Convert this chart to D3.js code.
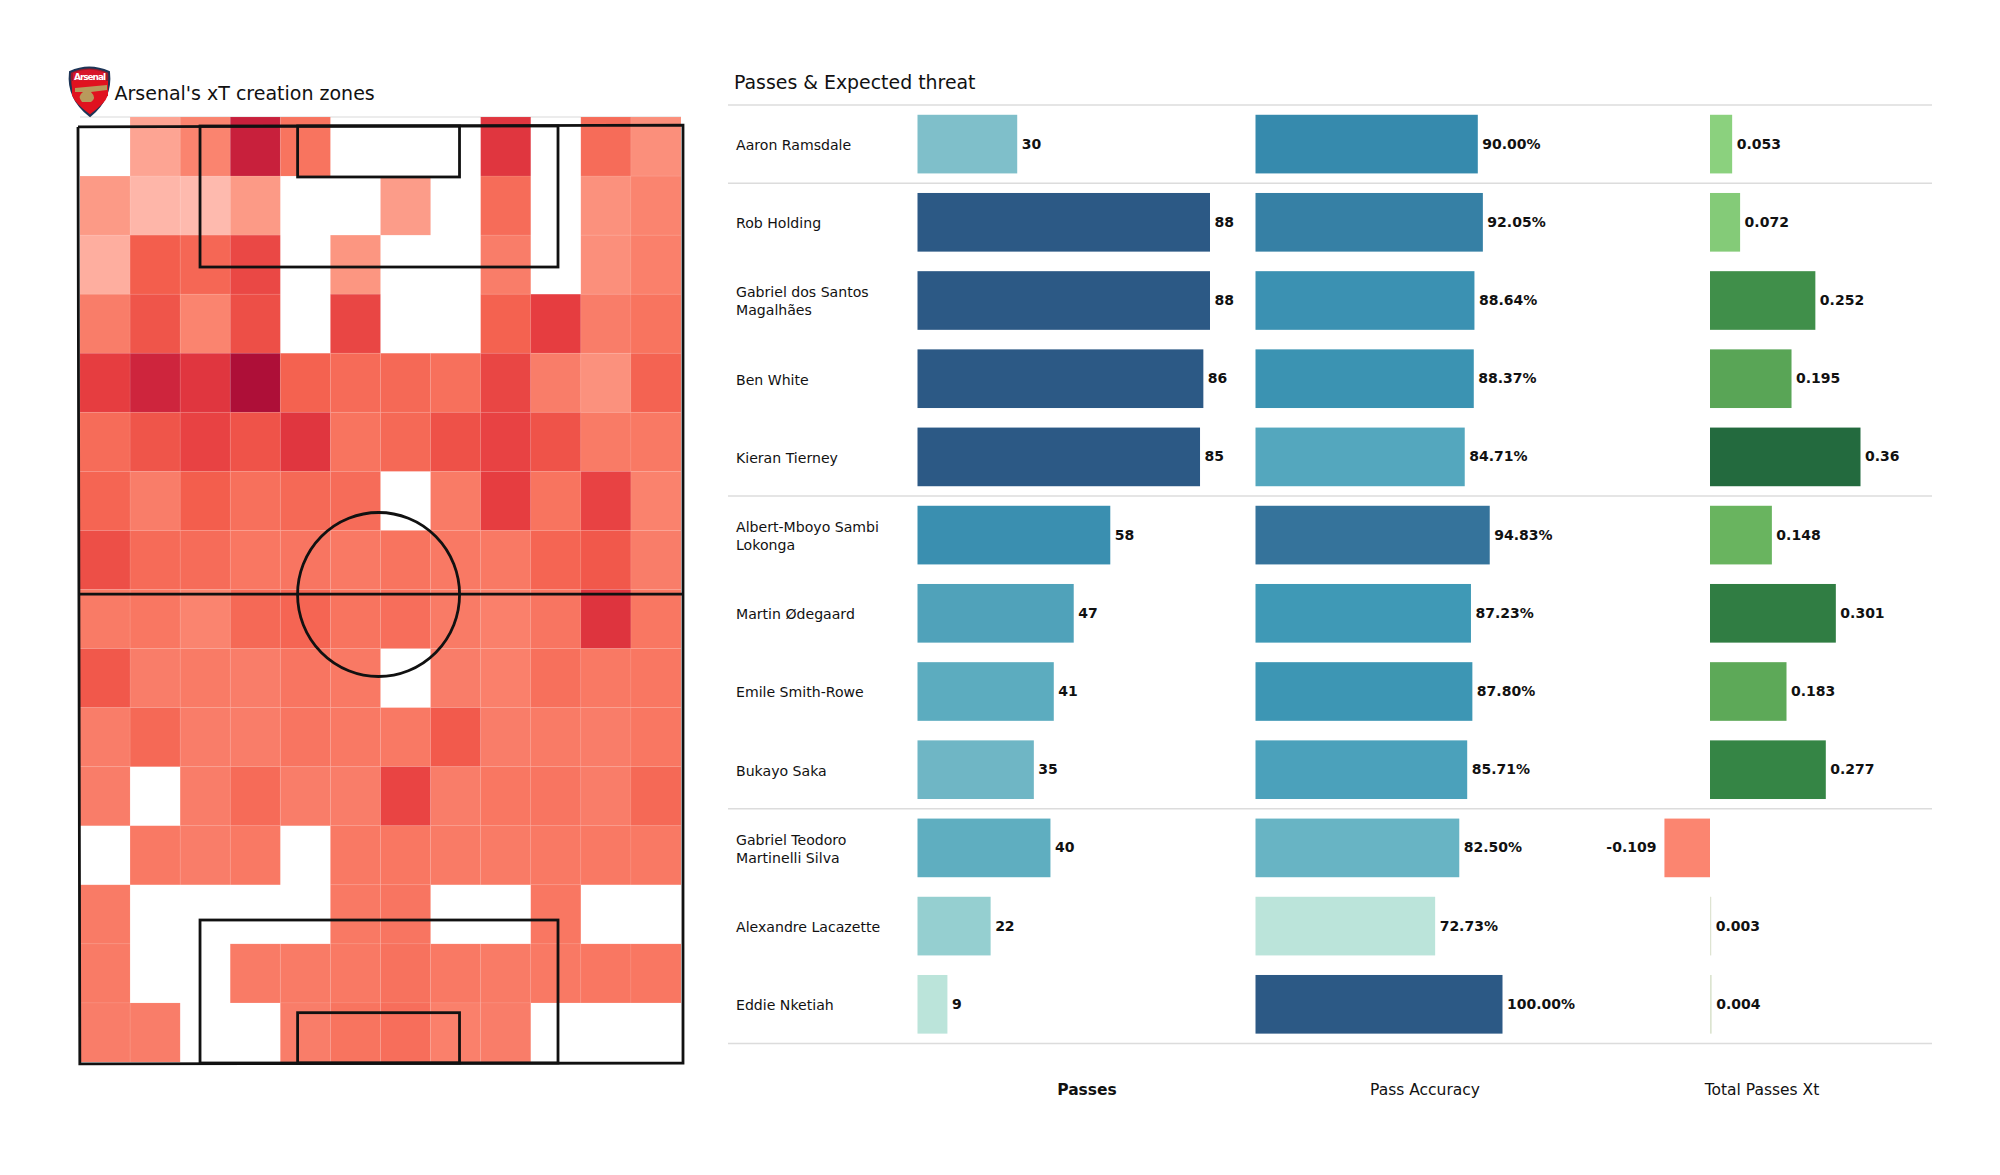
<!DOCTYPE html>
<html><head><meta charset="utf-8">
<script src="https://cdn.jsdelivr.net/npm/d3@7"></script>
<style>html,body{margin:0;padding:0;background:#fff}svg{display:block}text{font-family:"DejaVu Sans",sans-serif;fill:#111}</style>
</head><body><svg id="c" width="2000" height="1175"></svg>
<script>
const players=[["Aaron Ramsdale"],["Rob Holding"],["Gabriel dos Santos","Magalhães"],["Ben White"],["Kieran Tierney"],["Albert-Mboyo Sambi","Lokonga"],["Martin Ødegaard"],["Emile Smith-Rowe"],["Bukayo Saka"],["Gabriel Teodoro","Martinelli Silva"],["Alexandre Lacazette"],["Eddie Nketiah"]];
const passes=[30,88,88,86,85,58,47,41,35,40,22,9];
const accuracy=[90.00,92.05,88.64,88.37,84.71,94.83,87.23,87.80,85.71,82.50,72.73,100.00];
const xt=[0.053,0.072,0.252,0.195,0.36,0.148,0.301,0.183,0.277,-0.109,0.003,0.004];
const groupBreaks=[0,1,5,9,12];
const columnTitles=["Passes","Pass Accuracy","Total Passes Xt"];
const _=null;
const heat=[
[_,.15,.30,.85,.38,_,_,_,.72,_,.42,.25],
[.20,.06,.04,.20,_,_,.19,_,.42,_,.24,.30],
[.10,.50,.45,.62,_,.22,_,_,.33,_,.25,.32],
[.33,.55,.30,.58,_,.63,_,_,.48,.68,.33,.38],
[.68,.82,.72,1,.48,.43,.44,.40,.63,.33,.24,.47],
[.42,.55,.65,.56,.72,.38,.44,.57,.65,.56,.34,.35],
[.46,.33,.50,.40,.44,.42,_,.34,.68,.38,.65,.31],
[.58,.43,.42,.36,.37,.35,.38,.35,.35,.46,.53,.33],
[.34,.36,.30,.44,.46,.38,.41,.34,.32,.37,.73,.36],
[.53,.33,.34,.33,.37,.35,_,.33,.32,.40,.35,.36],
[.33,.44,.33,.33,.37,.35,.35,.52,.33,.34,.33,.36],
[.33,_,.33,.43,.33,.33,.64,.33,.36,.37,.33,.44],
[_,.35,.33,.35,_,.35,.36,.34,.34,.35,.35,.35],
[.34,_,_,_,_,.35,.37,_,_,.36,_,_],
[.34,_,_,.34,.34,.35,.39,.35,.34,.35,.36,.36],
[.33,.33,_,_,.33,.38,.41,.32,.33,_,_,_]];

const svg=d3.select("#c");
// heatmap
const hx=d3.scaleBand().domain(d3.range(12)).range([80,681]).paddingInner(0);
const hy=d3.scaleBand().domain(d3.range(16)).range([117,1062]).paddingInner(0);
const heatColor=d3.scaleLinear().domain([0,.2,.35,.5,.7,.85,1])
 .range(["#ffc2b8","#fc9a86","#f97964","#f35e4d","#e4393f","#c8203c","#ae0f38"]);
svg.append("line").attr("x1",80).attr("x2",681).attr("y1",117).attr("y2",117).attr("stroke","#e6e6e6").attr("stroke-width",1.5);
heat.forEach((row,r)=>row.forEach((v,c)=>{ if(v===null)return;
 svg.append("rect").attr("x",hx(c)).attr("y",hy(r)).attr("width",hx.bandwidth()).attr("height",hy.bandwidth())
  .attr("fill",heatColor(v)).attr("stroke","#fff").attr("stroke-opacity",.06).attr("stroke-width",1);
}));
// pitch markings, in fractions of the pitch
const px=d3.scaleLinear().domain([0,1]).range([78,683]);
const py=d3.scaleLinear().domain([0,1]).range([126,1063]);
const pitch=svg.append("g").attr("fill","none").attr("stroke","#111").attr("stroke-width",2.8);
const line=d3.line().x(d=>px(d[0])).y(d=>py(d[1]));
pitch.append("path").attr("d",line([[0,.001],[1,-.001],[1,1],[.003,1.001],[0,.001]]));
pitch.append("path").attr("d",line([[.002,.4995],[1,.4995]]));
const boxes=[[.2017,0,.7934,.1505],[.2017,.8474,.7934,1],[.3630,0,.6306,.0544],[.3630,.9463,.6306,1]];
boxes.forEach(b=>pitch.append("rect").attr("x",px(b[0])).attr("y",py(b[1])).attr("width",px(b[2])-px(b[0])).attr("height",py(b[3])-py(b[1])));
pitch.append("ellipse").attr("cx",px(.4968)).attr("cy",py(.5)).attr("rx",81).attr("ry",82);
// titles
svg.append("text").attr("x",114.5).attr("y",100).attr("font-size",19).text("Arsenal's xT creation zones");
svg.append("text").attr("x",734).attr("y",89).attr("font-size",18.9).text("Passes & Expected threat");
// crest
const crest=svg.append("g").attr("transform","translate(69,66)");
crest.append("path").attr("d","M1,6 Q20,-3 40,6 Q43,32 21,50 Q-2,32 1,6Z").attr("fill","#9a1a2a").attr("stroke","#1d3557").attr("stroke-width",2);
crest.append("path").attr("d","M4,7 Q20,0 37,7 L37,15 L4,15Z").attr("fill","#d8152a");
crest.append("path").attr("d","M3,29 Q6,38 21,48 Q36,38 39,29Z").attr("fill","#e0121f");
crest.append("rect").attr("x",3).attr("y",15).attr("width",36).attr("height",15).attr("fill","#e0121f");
crest.append("path").attr("d","M6,22 L38,19 L38,24 L22,26 Q28,32 22,36 L13,36 Q8,30 14,26 L6,26Z").attr("fill","#b89a5c");
crest.append("text").attr("x",21).attr("y",14).attr("text-anchor","middle").attr("font-size",9).attr("font-weight","bold").attr("style","fill:#fff").attr("textLength",32).text("Arsenal");
// rows
const rowY=d3.scaleBand().domain(d3.range(12)).range([105,1043.4]).paddingInner(.25).paddingOuter(.125);
const cy=i=>rowY(i)+rowY.bandwidth()/2;
const step=rowY.step();
groupBreaks.forEach(b=>{const y=105+b*step;
 svg.append("line").attr("x1",728).attr("x2",1932).attr("y1",y).attr("y2",y).attr("stroke","#dcdcdc").attr("stroke-width",1.5);});
players.forEach((p,i)=>{
 const t=svg.append("text").attr("font-size",14.1);
 p.forEach((l,k)=>t.append("tspan").attr("x",736).attr("y",cy(i)+5.8+(k-(p.length-1)/2)*18).text(l));
});
const xP=d3.scaleLinear().domain([0,88]).range([917.5,1210]);
const xA=d3.scaleLinear().domain([0,100]).range([1255.5,1502.5]);
const xX=d3.scaleLinear().domain([0,.36]).range([1710,1860.5]);
const cP=d3.scaleLinear().domain([9,22,30,41,58,85,88]).range(["#bbe4da","#95cfd0","#7fbfca","#5cacbf","#3a8fb0","#2c5985","#2c5985"]);
const cA=d3.scaleLinear().domain([72.73,82.5,87,90,95,100]).range(["#bbe4da","#68b4c4","#409ab7","#368aad","#35729a","#2c5985"]);
const cX=d3.scaleLinear().domain([-.109,-.001,.0001,.01,.053,.148,.195,.277,.36]).range(["#fb8570","#fb8570","#e4e4d8","#d0e4c4","#8bd17e","#69b45f","#59a556","#358545","#236a3e"]);
function bars(vals,x,color,fmt){
 vals.forEach((v,i)=>{
  const a=x(Math.min(0,v)),b=x(Math.max(0,v));
  svg.append("rect").attr("x",a).attr("y",rowY(i)).attr("width",Math.max(b-a,1)).attr("height",rowY.bandwidth()).attr("fill",color(v));
  const neg=v<0;
  svg.append("text").attr("x",neg?a-8:Math.max(b,a+1)+4.5).attr("y",cy(i)+4.5).attr("text-anchor",neg?"end":"start")
   .attr("font-size",14).attr("font-weight","bold").text(fmt(v));
 });
}
bars(passes,xP,cP,d=>d);
bars(accuracy,xA,cA,d=>d.toFixed(2)+"%");
bars(xt,xX,cX,d=>String(d));
[[1087,"bold"],[1425,"normal"],[1762,"normal"]].forEach((o,i)=>{
 svg.append("text").attr("x",o[0]).attr("y",1095).attr("text-anchor","middle").attr("font-size",15.5).attr("font-weight",o[1]).text(columnTitles[i]);
});
</script></body></html>
